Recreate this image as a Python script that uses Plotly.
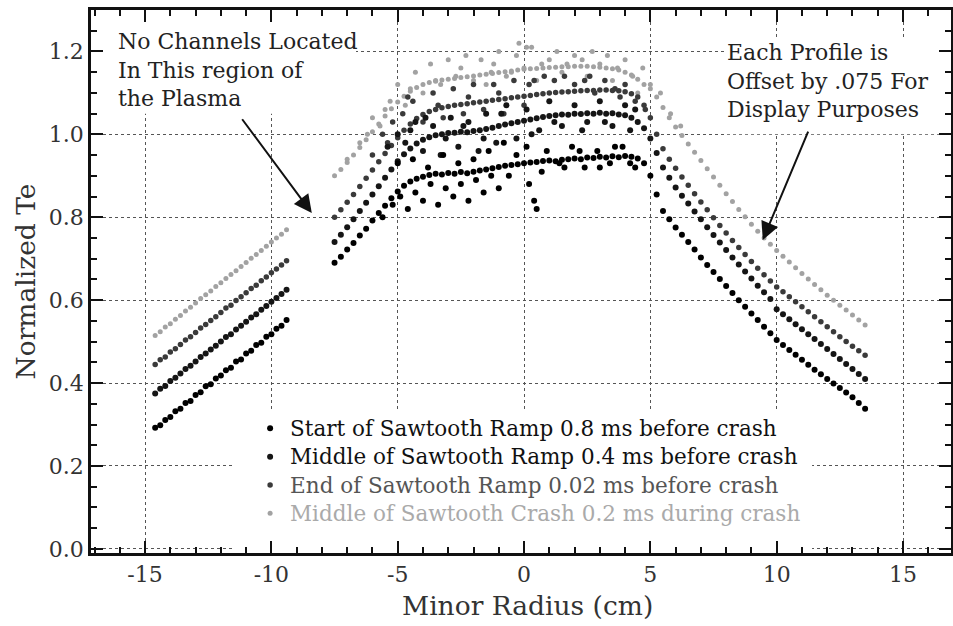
import plotly.graph_objects as go

# ---------------- data ----------------
edge_r = [-14.6, -14.4, -14.2, -14.0, -13.8, -13.6, -13.4, -13.2, -13.0, -12.8, -12.6, -12.4, -12.2, -12.0,
          -11.8, -11.6, -11.4, -11.2, -11.0, -10.8, -10.6, -10.4, -10.2, -10.0, -9.8, -9.6, -9.4]

core_r = [-7.5, -7.25, -7.0, -6.75, -6.5, -6.25, -6.0, -5.75, -5.5, -5.25, -5.0, -4.75, -4.5, -4.25,
          -4.0, -3.75, -3.5, -3.25, -3.0, -2.75, -2.5, -2.25, -2.0, -1.75, -1.5, -1.25, -1.0, -0.75,
          -0.5, -0.25, 0.0, 0.25, 0.5, 0.75, 1.0, 1.25, 1.5, 1.75, 2.0, 2.25, 2.5, 2.75, 3.0, 3.25,
          3.5, 3.75, 4.0, 4.25, 4.5, 4.75, 5.0, 5.25, 5.5, 5.75, 6.0, 6.25, 6.5, 6.75, 7.0, 7.25,
          7.5, 7.75, 8.0, 8.25, 8.5, 8.75, 9.0, 9.25, 9.5, 9.75, 10.0, 10.25, 10.5, 10.75, 11.0,
          11.25, 11.5, 11.75, 12.0, 12.25, 12.5, 12.75, 13.0, 13.25, 13.5]

start_edge = [0.292, 0.298, 0.311, 0.318, 0.332, 0.338, 0.352, 0.357, 0.371, 0.378, 0.392, 0.397, 0.411,
              0.418, 0.431, 0.437, 0.452, 0.457, 0.471, 0.478, 0.492, 0.497, 0.512, 0.518, 0.531, 0.538, 0.552]
middle_edge = [0.375, 0.386, 0.393, 0.405, 0.413, 0.423, 0.434, 0.442, 0.452, 0.463, 0.471, 0.481, 0.490,
               0.500, 0.511, 0.518, 0.529, 0.538, 0.548, 0.558, 0.566, 0.577, 0.586, 0.596, 0.605, 0.615, 0.625]
end_edge = [0.445, 0.456, 0.463, 0.475, 0.483, 0.493, 0.504, 0.512, 0.522, 0.533, 0.541, 0.551, 0.560,
            0.570, 0.581, 0.588, 0.599, 0.608, 0.618, 0.628, 0.636, 0.647, 0.656, 0.666, 0.675, 0.685, 0.695]
crash_edge = [0.515, 0.524, 0.535, 0.543, 0.554, 0.563, 0.574, 0.583, 0.593, 0.604, 0.613, 0.622, 0.633,
              0.642, 0.652, 0.662, 0.671, 0.681, 0.691, 0.701, 0.710, 0.720, 0.730, 0.740, 0.750, 0.759, 0.770]

start_core = [0.690, 0.705, 0.722, 0.738, 0.756, 0.772, 0.792, 0.810, 0.828, 0.846, 0.862, 0.876, 0.886, 0.893,
              0.898, 0.902, 0.905, 0.903, 0.907, 0.905, 0.909, 0.906, 0.910, 0.913, 0.915, 0.918, 0.921, 0.924,
              0.926, 0.928, 0.930, 0.932, 0.933, 0.936, 0.937, 0.935, 0.939, 0.940, 0.942, 0.940, 0.944, 0.943,
              0.946, 0.944, 0.947, 0.945, 0.948, 0.946, 0.942, 0.930, 0.900, 0.855, 0.815, 0.795, 0.775, 0.758,
              0.740, 0.722, 0.703, 0.685, 0.668, 0.651, 0.634, 0.617, 0.600, 0.584, 0.568, 0.552, 0.536, 0.520,
              0.504, 0.492, 0.480, 0.468, 0.456, 0.444, 0.432, 0.421, 0.410, 0.399, 0.388, 0.377, 0.366, 0.352,
              0.338]
middle_core = [0.740, 0.758, 0.776, 0.795, 0.815, 0.835, 0.855, 0.875, 0.895, 0.915, 0.935, 0.952, 0.966, 0.978,
               0.987, 0.993, 0.998, 1.000, 1.003, 1.004, 1.006, 1.005, 1.008, 1.010, 1.013, 1.016, 1.020, 1.024,
               1.027, 1.030, 1.033, 1.036, 1.039, 1.042, 1.044, 1.046, 1.048, 1.047, 1.050, 1.049, 1.051, 1.050,
               1.052, 1.050, 1.051, 1.048, 1.046, 1.040, 1.030, 1.015, 0.990, 0.955, 0.920, 0.895, 0.872, 0.852,
               0.833, 0.814, 0.795, 0.776, 0.757, 0.739, 0.721, 0.703, 0.686, 0.669, 0.652, 0.635, 0.619, 0.603,
               0.578, 0.566, 0.554, 0.542, 0.530, 0.518, 0.506, 0.494, 0.482, 0.470, 0.458, 0.446, 0.434, 0.422,
               0.410]
end_core = [0.800, 0.818, 0.836, 0.855, 0.874, 0.894, 0.914, 0.934, 0.954, 0.973, 0.992, 1.010, 1.025, 1.038,
            1.048, 1.055, 1.060, 1.064, 1.067, 1.070, 1.072, 1.074, 1.076, 1.078, 1.080, 1.082, 1.084, 1.086,
            1.088, 1.090, 1.092, 1.094, 1.096, 1.098, 1.100, 1.101, 1.102, 1.103, 1.104, 1.105, 1.106, 1.106,
            1.107, 1.107, 1.106, 1.105, 1.103, 1.098, 1.090, 1.070, 1.040, 1.000, 0.965, 0.940, 0.918, 0.897,
            0.877, 0.857, 0.837, 0.818, 0.799, 0.780, 0.762, 0.744, 0.727, 0.710, 0.693, 0.677, 0.661, 0.646,
            0.632, 0.620, 0.608, 0.596, 0.584, 0.572, 0.560, 0.548, 0.536, 0.524, 0.512, 0.500, 0.489, 0.478,
            0.467]
crash_core = [0.900, 0.915, 0.932, 0.950, 0.968, 0.987, 1.006, 1.025, 1.044, 1.062, 1.078, 1.092, 1.104, 1.113,
              1.120, 1.125, 1.128, 1.131, 1.133, 1.135, 1.137, 1.139, 1.141, 1.143, 1.145, 1.147, 1.149, 1.151,
              1.153, 1.155, 1.157, 1.158, 1.159, 1.160, 1.161, 1.162, 1.163, 1.163, 1.164, 1.164, 1.164, 1.163,
              1.162, 1.160, 1.158, 1.155, 1.150, 1.143, 1.133, 1.120, 1.110, 1.090, 1.065, 1.040, 1.018, 0.997,
              0.977, 0.957, 0.937, 0.917, 0.897, 0.877, 0.857, 0.838, 0.819, 0.801, 0.783, 0.766, 0.750, 0.735,
              0.720, 0.706, 0.692, 0.678, 0.664, 0.651, 0.638, 0.625, 0.612, 0.600, 0.588, 0.576, 0.564, 0.552,
              0.540]

# scattered points in the plasma core
start_cloud_r = [-5.6, -5.2, -4.9, -4.6, -4.3, -4.0, -3.7, -3.4, -3.1, -2.8, -2.5, -2.2, -1.9, -1.6, -1.3, -1.0,
                 -0.6, -0.3, 0.2, 0.4, 0.5, 0.9, 1.4, 1.9, 2.4, 2.9, 3.4, 3.9, 4.4, -5.0, -4.4, -3.8, -3.2, -2.6,
                 -2.0, -1.4, -0.8, 0.1, 0.7, 1.6, 2.2, 3.0, 3.6, 4.2]
start_cloud_te = [0.80, 0.83, 0.85, 0.82, 0.86, 0.84, 0.88, 0.83, 0.87, 0.85, 0.88, 0.84, 0.89, 0.86, 0.90, 0.87,
                  0.90, 0.95, 0.88, 0.84, 0.82, 0.96, 0.93, 0.97, 0.92, 0.96, 0.93, 0.97, 0.92, 0.93, 0.94, 0.92,
                  0.95, 0.93, 0.94, 0.96, 0.98, 0.97, 0.91, 0.92, 0.96, 0.92, 0.97, 0.93]
middle_cloud_r = [-5.4, -5.0, -4.7, -4.3, -4.0, -3.6, -3.3, -2.9, -2.6, -2.2, -1.8, -1.5, -1.1, -0.7, -0.3, 0.1,
                  0.6, 1.0, 1.5, 2.0, 2.5, 3.0, 3.5, 4.0, 4.4, -4.5, -3.9, -3.1, -2.4, -1.6, -0.9, 0.3, 1.2, 2.3,
                  3.2, 4.2]
middle_cloud_te = [0.97, 1.00, 0.98, 1.03, 0.96, 1.02, 0.95, 1.04, 0.97, 1.03, 0.96, 1.05, 0.98, 1.07, 0.99, 1.06,
                   1.01, 1.08, 1.02, 1.07, 1.03, 1.08, 1.02, 1.07, 1.06, 1.01, 1.04, 0.99, 1.02, 0.99, 1.05, 1.00,
                   1.03, 1.01, 1.03, 1.01]
end_cloud_r = [-6.0, -5.6, -5.2, -4.8, -4.4, -4.0, -3.6, -3.2, -2.8, -2.4, -2.0, -1.6, -1.2, -0.8, -0.4, 0.0, 0.4,
               0.8, 1.2, 1.6, 2.0, 2.4, 2.8, 3.2, 3.6, 4.0, 4.4, 4.8, -5.4, -4.6, -3.4, -2.2, -1.0, 0.2, 2.6, 3.8]
end_cloud_te = [0.95, 1.00, 1.03, 1.05, 1.08, 1.03, 1.10, 1.04, 1.11, 1.05, 1.12, 1.06, 1.12, 1.05, 1.13, 1.07,
                1.13, 1.14, 1.13, 1.14, 1.12, 1.13, 1.10, 1.13, 1.11, 1.12, 1.08, 1.06, 0.98, 1.09, 1.07, 1.09,
                1.10, 1.12, 1.14, 1.09]
crash_cloud_r = [-7.0, -6.5, -6.0, -5.7, -5.3, -5.0, -4.7, -4.3, -4.0, -3.7, -3.3, -3.0, -2.7, -2.3, -2.0, -1.7,
                 -1.3, -1.0, -0.7, -0.3, 0.0, 0.3, 0.7, 1.0, 1.3, 1.7, 2.0, 2.3, 2.7, 3.0, 3.3, 3.7, 4.0, 4.3,
                 4.7, 5.0, 5.4, 5.8, 6.2, -6.2, -5.5, -4.5, -3.5, -2.5, -1.5, -0.5, 0.5, 1.5, 2.5, 3.5, 4.5,
                 -0.2, 0.1, -1.2]
crash_cloud_te = [0.94, 0.98, 1.04, 1.02, 1.08, 1.12, 1.07, 1.15, 1.10, 1.17, 1.12, 1.18, 1.14, 1.19, 1.13, 1.18,
                  1.15, 1.20, 1.14, 1.19, 1.16, 1.21, 1.17, 1.18, 1.20, 1.17, 1.19, 1.18, 1.20, 1.17, 1.19, 1.16,
                  1.18, 1.14, 1.16, 1.12, 1.10, 1.05, 1.02, 1.00, 1.06, 1.11, 1.13, 1.16, 1.12, 1.15, 1.13, 1.15,
                  1.14, 1.13, 1.10, 1.22, 1.21, 1.17]

series_names = ["Start of Sawtooth Ramp 0.8 ms before crash",
                "Middle of Sawtooth Ramp 0.4 ms before crash",
                "End of Sawtooth Ramp 0.02 ms before crash",
                "Middle of Sawtooth Crash 0.2 ms during crash"]
x_ticks = [-15, -10, -5, 0, 5, 10, 15]
y_ticks = [0.0, 0.2, 0.4, 0.6, 0.8, 1.0, 1.2]

# ---------------- figure ----------------
FONT = "DejaVu Serif"
marker_colors = ["#000000", "#151515", "#3a3a3a", "#a2a2a2"]
marker_sizes = [6, 6, 5.5, 5]
text_colors = ["#111111", "#111111", "#555555", "#aaaaaa"]

series = [
    (edge_r, start_edge, core_r, start_core, start_cloud_r, start_cloud_te),
    (edge_r, middle_edge, core_r, middle_core, middle_cloud_r, middle_cloud_te),
    (edge_r, end_edge, core_r, end_core, end_cloud_r, end_cloud_te),
    (edge_r, crash_edge, core_r, crash_core, crash_cloud_r, crash_cloud_te),
]

fig = go.Figure()
for i in [3, 2, 1, 0]:
    er, ey, cr, cy, clr, cly = series[i]
    fig.add_trace(go.Scatter(
        x=er + cr + clr, y=ey + cy + cly, mode="markers",
        name='<span style="color:%s;font-size:21.5px">%s</span>' % (text_colors[i], series_names[i]),
        marker=dict(color=marker_colors[i], size=marker_sizes[i], line=dict(width=0)),
    ))

# white masks hiding grid lines behind texts / legend
for x0, x1, y0, y1 in [(-11.55, 11.4, -0.01, 0.335), (-17.2, -6.65, 1.05, 1.31), (8.03, 17.0, 1.0, 1.235)]:
    fig.add_shape(type="rect", x0=x0, x1=x1, y0=y0, y1=y1, xref="x", yref="y",
                  fillcolor="white", line=dict(width=0), layer="between")

ann_font = dict(family=FONT, size=22, color="#222")
fig.add_annotation(x=-16.15, y=1.26, xref="x", yref="y", xanchor="left", yanchor="top", align="left",
                   text="No Channels Located<br>In This region of<br>the Plasma", showarrow=False, font=ann_font)
fig.add_annotation(x=7.95, y=1.232, xref="x", yref="y", xanchor="left", yanchor="top", align="left",
                   text="Each Profile is<br>Offset by .075 For<br>Display Purposes", showarrow=False, font=ann_font)
fig.add_annotation(x=-8.4, y=0.81, ax=-11.2, ay=1.04, xref="x", yref="y", axref="x", ayref="y",
                   text="", showarrow=True, arrowhead=2, arrowsize=1.8, arrowwidth=2, arrowcolor="#111")
fig.add_annotation(x=9.45, y=0.745, ax=11.27, ay=1.01, xref="x", yref="y", axref="x", ayref="y",
                   text="", showarrow=True, arrowhead=2, arrowsize=1.8, arrowwidth=2, arrowcolor="#111")
# x-axis title (placed as annotation to match its slight offset)
fig.add_annotation(x=0.508, y=-0.097, xref="paper", yref="paper", xanchor="center", yanchor="middle",
                   text="Minor Radius (cm)", showarrow=False, font=dict(family=FONT, size=26.5, color="#333"))

axis_common = dict(
    ticks="inside", ticklen=12, tickwidth=2, tickcolor="#111",
    showline=True, linewidth=2.5, linecolor="#111", mirror="ticks",
    showgrid=True, gridcolor="#555", griddash="dot", gridwidth=1, zeroline=False,
    tickfont=dict(family=FONT, size=22, color="#333"), automargin=False,
)
fig.update_xaxes(range=[-17.14, 16.9], tickmode="array", tickvals=x_ticks,
                 ticktext=[str(v) for v in x_ticks],
                 minor=dict(dtick=1, tick0=0, ticks="inside", ticklen=6, tickwidth=1.5, tickcolor="#111",
                            showgrid=False),
                 **axis_common)
fig.update_yaxes(range=[-0.01, 1.30], tickmode="array", tickvals=y_ticks,
                 ticktext=["%.1f" % v for v in y_ticks],
                 minor=dict(dtick=0.05, tick0=0, ticks="inside", ticklen=6, tickwidth=1.5, tickcolor="#111",
                            showgrid=False),
                 title=dict(text="Normalized Te", font=dict(family=FONT, size=26.5, color="#333"), standoff=6),
                 **axis_common)

fig.update_layout(
    width=953, height=626,
    margin=dict(l=91, r=2, t=10, b=73),
    paper_bgcolor="white", plot_bgcolor="white",
    font=dict(family=FONT, color="#222"),
    legend=dict(x=0.185, y=0.265, xanchor="left", yanchor="top", traceorder="reversed",
                bgcolor="rgba(0,0,0,0)", font=dict(family=FONT, size=19.5), tracegroupgap=0,
                itemwidth=30),
)

fig.write_html("out.html", config={"displayModeBar": False},
               post_script="document.body.style.margin='0px';")
